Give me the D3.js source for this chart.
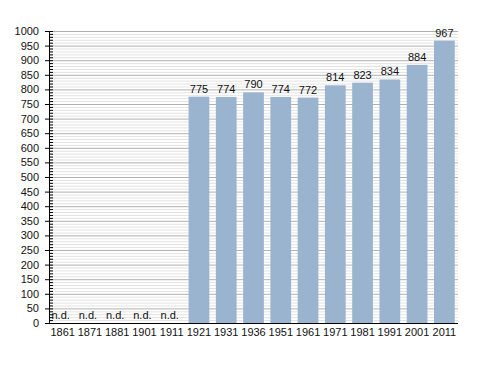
<!DOCTYPE html>
<html><head><meta charset="utf-8">
<script src="https://cdn.jsdelivr.net/npm/d3@7"></script>
<style>body{margin:0;background:#fff}svg{display:block}text{font-family:"Liberation Sans",Arial,sans-serif}</style>
</head><body><div id="c"></div>
<script>
const years = ["1861","1871","1881","1901","1911","1921","1931","1936","1951","1961","1971","1981","1991","2001","2011"];
const values = [null,null,null,null,null,775,774,790,774,772,814,823,834,884,967];
const yTicks = d3.range(0,1001,50);

const W=488,H=373;
const m={l:49,r:30,t:31,b:50};
const svg=d3.select("#c").append("svg").attr("width",W).attr("height",H);
const x=d3.scaleBand().domain(years).range([m.l,W-m.r]).paddingInner(0.24).paddingOuter(0.12);
const y=d3.scaleLinear().domain([0,1000]).range([H-m.b,m.t]);

// minor grid
svg.append("g").selectAll("line").data(d3.range(0,1001,10).filter(v=>v%50)).join("line")
 .attr("x1",m.l).attr("x2",W-m.r).attr("y1",d=>y(d)+0.5).attr("y2",d=>y(d)+0.5)
 .attr("stroke","#e2e2e2").attr("stroke-width",1);
// major grid
svg.append("g").selectAll("line").data(yTicks.filter(v=>v>0)).join("line")
 .attr("x1",m.l).attr("x2",W-m.r).attr("y1",d=>y(d)+0.5).attr("y2",d=>y(d)+0.5)
 .attr("stroke","#b0b0b0").attr("stroke-width",1);

// bars
svg.append("g").selectAll("rect").data(years.map((d,i)=>({y:d,v:values[i]})).filter(d=>d.v!=null)).join("rect")
 .attr("x",d=>x(d.y)).attr("width",x.bandwidth()).attr("y",d=>y(d.v)).attr("height",d=>y(0)-y(d.v))
 .attr("fill","#9ab3cf");

// value labels
svg.append("g").selectAll("text").data(years.map((d,i)=>({y:d,v:values[i]}))).join("text")
 .attr("x",d=>x(d.y)+x.bandwidth()/2 - (d.v==null?2:0))
 .attr("y",d=>d.v==null? y(0)-4 : y(d.v)-4)
 .attr("text-anchor","middle").attr("font-size",11).attr("fill","#111")
 .text(d=>d.v==null?"n.d.":d.v);

// y axis
const ya=svg.append("g").attr("transform",`translate(${m.l},0)`)
 .call(d3.axisLeft(y).tickValues(yTicks).tickFormat(d3.format("d")).tickSize(4).tickPadding(6));
ya.select(".domain").remove();
ya.selectAll(".tick line").attr("x2",-4).attr("x1",4).attr("stroke","#000");
ya.selectAll("text").attr("font-size",11).attr("fill","#111").style("font-family","Liberation Sans, Arial, sans-serif");
svg.append("g").selectAll("line").data(d3.range(0,1001,10).filter(v=>v%50)).join("line")
 .attr("x1",m.l).attr("x2",m.l+4).attr("y1",d=>y(d)+0.5).attr("y2",d=>y(d)+0.5).attr("stroke","#000");
svg.append("line").attr("x1",m.l+0.5).attr("x2",m.l+0.5).attr("y1",m.t).attr("y2",y(0)).attr("stroke","#000");

// x axis
const xa=svg.append("g").attr("transform",`translate(0,${y(0)})`)
 .call(d3.axisBottom(x).tickSize(0).tickPadding(5));
xa.select(".domain").attr("stroke","#000").attr("d",`M${m.l},0.5H${W-m.r}`);
xa.selectAll("text").attr("font-size",11).attr("fill","#111").style("font-family","Liberation Sans, Arial, sans-serif");
</script></body></html>
